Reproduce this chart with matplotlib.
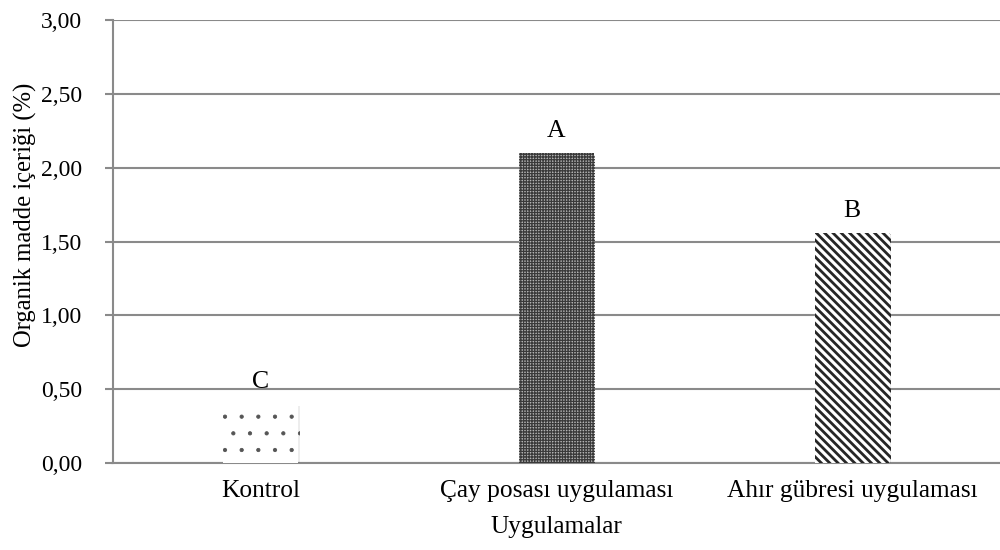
import matplotlib
matplotlib.use("Agg")
import matplotlib.pyplot as plt
import matplotlib.patheffects as pe
from matplotlib.ticker import FuncFormatter, MultipleLocator

# Organic matter content by treatment
categories = ["Kontrol", "Çay posası uygulaması", "Ahır gübresi uygulaması"]
values = [0.40, 2.10, 1.56]
letters = ["C", "A", "B"]

hatches = [".", "++++++", "\\\\\\\\"]
hatch_colors = ["#555555", "#3a3a3a", "#262626"]
face_colors = ["#ffffff", "#b4b4b4", "#ffffff"]
hatch_widths = [0.6, 0.9, 2.0]

plt.rcParams["font.family"] = ["Liberation Serif", "DejaVu Serif"]
grid_gray = "#8a8a8a"

fig = plt.figure(figsize=(10, 5.5), dpi=100)
ax = fig.add_axes([0.1125, 1 - 463 / 550, 0.8875, 443 / 550])

x = list(range(len(categories)))
for i in x:
    with plt.rc_context({"hatch.linewidth": hatch_widths[i]}):
        bar = ax.bar(
            i, values[i], width=0.254, color=face_colors[i],
            edgecolor=hatch_colors[i], linewidth=0, hatch=hatches[i], zorder=3,
        )[0]
    try:
        bar.set_hatch_linewidth(hatch_widths[i])
    except AttributeError:
        pass
    # soft drop shadow around each bar
    bar.set_path_effects([
        pe.SimplePatchShadow(offset=(1.2, -1.2), shadow_rgbFace="#000000", alpha=0.07),
        pe.Normal(),
    ])
    ax.annotate(
        letters[i], xy=(i, values[i]), xytext=(0, 11.5), textcoords="offset points",
        ha="center", va="baseline", fontsize=18.5, color="#000000", zorder=4,
    )

ax.set_xlim(-0.5, len(categories) - 0.5)
ax.set_ylim(0, 3.0)
ax.yaxis.set_major_locator(MultipleLocator(0.5))
ax.yaxis.set_major_formatter(FuncFormatter(lambda v, _: f"{v:.2f}".replace(".", ",")))
ax.set_xticks(x)
ax.set_xticklabels(categories, fontsize=18.3)
ax.tick_params(axis="x", length=0, pad=12)
ax.tick_params(axis="y", length=5.8, width=1.5, color=grid_gray, pad=16, labelsize=17)

ax.grid(axis="y", color=grid_gray, linewidth=1.5, zorder=0)
ax.set_axisbelow(True)
for side in ("top", "right"):
    ax.spines[side].set_visible(False)
for side in ("left", "bottom"):
    ax.spines[side].set_color(grid_gray)
    ax.spines[side].set_linewidth(1.5)

fig.text(25 / 1000, 1 - 215 / 550, "Organik madde içeriği (%)", rotation=90,
         ha="center", va="center", fontsize=17.7)
fig.text(556 / 1000, 1 - 527 / 550, "Uygulamalar", ha="center", va="center", fontsize=18.3)

fig.savefig("out.png", dpi=100, facecolor="white")
